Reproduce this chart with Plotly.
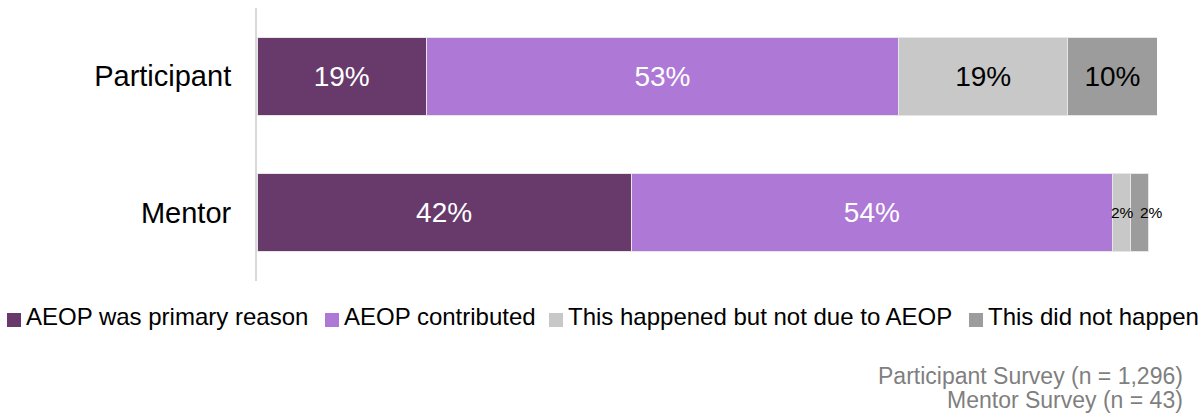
import plotly.graph_objects as go

categories = ["Participant", "Mentor"]
series_names = ["AEOP was primary reason", "AEOP contributed",
                "This happened but not due to AEOP", "This did not happen"]
primary_reason = [19, 42]
contributed = [53, 54]
happened_not_aeop = [19, 2]
did_not_happen = [10, 2]
series_values = [primary_reason, contributed, happened_not_aeop, did_not_happen]
notes = ["Participant Survey (n = 1,296)", "Mentor Survey (n = 43)"]

colors = ["#673a6b", "#ad78d6", "#c8c8c8", "#9c9c9c"]
label_colors = ["white", "white", "black", "black"]
FONT = "Liberation Sans, Arial, sans-serif"

W, H = 1199, 413
ML, MR, MT, MB = 257, 42, 8, 132
PW, PH = W - ML - MR, H - MT - MB


def px2x(px):
    return (px - ML) / PW


def py2y(py):
    return (H - MB - py) / PH


fig = go.Figure()
for name, vals, col, lc in zip(series_names, series_values, colors, label_colors):
    fig.add_trace(go.Bar(
        y=categories, x=vals, name=name, orientation="h",
        marker=dict(color=col, line=dict(color="#e6e6e6", width=1)),
        text=[f"{v}%" if v >= 5 else "" for v in vals], textposition="inside",
        insidetextanchor="middle", constraintext="none",
        textfont=dict(family=FONT, size=28, color=lc),
        hoverinfo="skip", showlegend=False,
    ))

# small segment labels (too narrow for inside text), positioned in data coordinates
cum = [0.0] * len(categories)
for si, vals in enumerate(series_values):
    for ci, v in enumerate(vals):
        if v < 5:
            shift = 12 if si == len(series_values) - 1 else 1
            fig.add_annotation(x=cum[ci] + v / 2, y=categories[ci], xref="x", yref="y",
                               text=f"{v}%", showarrow=False, xshift=shift,
                               font=dict(family=FONT, size=15.5, color="black"))
        cum[ci] += v

# legend (square + text), matching the reference's compact spacing
legend_sq_px = [7, 325, 549, 969]
for name, col, sx in zip(series_names, colors, legend_sq_px):
    fig.add_shape(type="rect", xref="paper", yref="paper",
                  x0=px2x(sx), x1=px2x(sx + 14), y0=py2y(327), y1=py2y(313),
                  fillcolor=col, line=dict(width=0))
    fig.add_annotation(text=name, xref="paper", yref="paper", x=px2x(sx + 17), y=py2y(316),
                       xanchor="left", yanchor="middle", showarrow=False,
                       font=dict(family=FONT, size=24, color="black"))

for i, note in enumerate(notes):
    fig.add_annotation(text=note, xref="paper", yref="paper", x=px2x(1185), y=py2y(376 + i * 24),
                       xanchor="right", yanchor="middle", showarrow=False,
                       font=dict(family=FONT, size=23, color="#7f7f7f"))

fig.update_layout(
    barmode="stack", width=W, height=H,
    margin=dict(l=ML, r=MR, t=MT, b=MB, autoexpand=False),
    paper_bgcolor="white", plot_bgcolor="white",
    bargap=0.425, showlegend=False,
    font=dict(family=FONT),
)
fig.update_xaxes(range=[0, 101], visible=False, fixedrange=True)
fig.update_yaxes(autorange="reversed", showline=True, linecolor="#d9d9d9", linewidth=2,
                 ticks="", ticklabelstandoff=18, fixedrange=True,
                 tickfont=dict(family=FONT, size=29, color="black"))

fig.write_html("out.html", post_script="document.body.style.margin='0px';",
               config={"displayModeBar": False})
